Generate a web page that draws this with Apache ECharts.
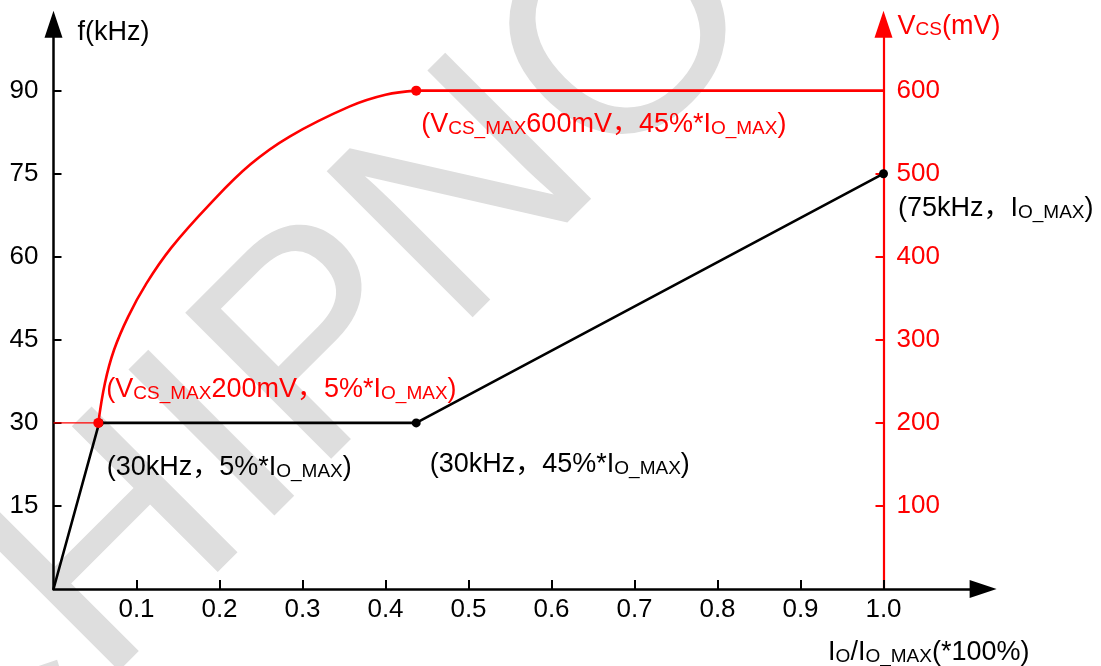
<!DOCTYPE html>
<html>
<head>
<meta charset="utf-8">
<script src="https://cdn.jsdelivr.net/npm/echarts@6/dist/echarts.min.js"></script>
<style>
html,body{margin:0;padding:0;background:#fff;}
#chart{width:1101px;height:666px;}
</style>
</head>
<body>
<div id="chart"></div>
<script>
// ---- data ----
var xTicks = [0.1, 0.2, 0.3, 0.4, 0.5, 0.6, 0.7, 0.8, 0.9, 1.0];
var fTicks = [15, 30, 45, 60, 75, 90];
var vcsTicks = [100, 200, 300, 400, 500, 600];
// switching frequency f (kHz) vs Io/Io_max
var freqPoints = [[0, 0], [0.055, 30], [0.437, 30], [1.0, 75]];
// Vcs (mV) vs Io/Io_max : curve part
var vcsCurve = [[0.054, 200], [0.062, 248], [0.073, 288], [0.090, 328], [0.112, 368],
  [0.142, 411], [0.189, 464], [0.237, 511], [0.285, 545],
  [0.357, 581], [0.400, 595], [0.437, 600]];
var vcsFlat = [[0.437, 600], [1.0, 600]];
var vcsLow = [[0, 200], [0.054, 200]];

var FONT = '"Liberation Sans", Arial, "Noto Sans CJK SC"';
var RED = '#ff0000';
function rich(color, big, small) {
  return {
    m: {fontSize: big, fontFamily: FONT, color: color, lineHeight: big + 4, verticalAlign: 'bottom'},
    s: {fontSize: small, fontFamily: FONT, color: color, lineHeight: small, verticalAlign: 'bottom'}
  };
}
function annot(text, color, off) {
  return {show: true, position: 'right', align: 'left', verticalAlign: 'middle', offset: off,
    formatter: text, rich: rich(color, 27, 19)};
}

var chart = echarts.init(document.getElementById('chart'), null, {renderer: 'canvas'});
var option = {
  backgroundColor: '#fff',
  animation: false,
  textStyle: {fontFamily: FONT},
  grid: {left: 53.5, right: 117.9, top: 24.2, bottom: 77, outerBoundsMode: 'none'},
  graphic: [{
    type: 'text', z: -10, silent: true,
    x: -4, y: 889, rotation: Math.PI / 4,
    style: {text: 'CHIPNORTH', fill: '#dedede', font: '300px "Liberation Sans"', textAlign: 'left', textVerticalAlign: 'bottom'}
  }],
  xAxis: {
    type: 'value', min: 0, max: 1.12,
    splitLine: {show: false},
    axisLine: {lineStyle: {color: '#000', width: 2.5}, symbol: ['none', 'triangle'], symbolSize: [18, 27]},
    axisTick: {inside: true, length: 9, lineStyle: {color: '#000', width: 2}, customValues: xTicks},
    axisLabel: {customValues: xTicks, color: '#000', fontSize: 26, fontFamily: FONT, margin: 8,
      formatter: function (v) { return v.toFixed(1); }},
    name: '{m|I}{s|O}{m|/I}{s|O_MAX}{m|(*100%)}',
    nameLocation: 'end', nameGap: -155,
    nameTextStyle: {align: 'left', verticalAlign: 'top', padding: [46, 0, 0, 0], rich: rich('#000', 27, 19)}
  },
  yAxis: [{
    type: 'value', min: 0, max: 102, position: 'left',
    splitLine: {show: false},
    axisLine: {lineStyle: {color: '#000', width: 2.5}, symbol: ['none', 'triangle'], symbolSize: [18, 27]},
    axisTick: {inside: true, length: 8, lineStyle: {color: '#000', width: 2}, customValues: fTicks},
    axisLabel: {customValues: fTicks, color: '#000', fontSize: 26, fontFamily: FONT, margin: 15},
    name: 'f(kHz)', nameLocation: 'end', nameGap: -8,
    nameTextStyle: {align: 'left', verticalAlign: 'middle', padding: [0, 0, 0, 24], color: '#000', fontSize: 27, fontFamily: FONT}
  }, {
    type: 'value', min: 0, max: 680, position: 'right', offset: -99.6,
    splitLine: {show: false},
    axisLine: {lineStyle: {color: RED, width: 2.2}, symbol: ['none', 'triangle'], symbolSize: [18, 27]},
    axisTick: {inside: true, length: 8, lineStyle: {color: RED, width: 2}, customValues: vcsTicks},
    axisLabel: {customValues: vcsTicks, color: RED, fontSize: 26, fontFamily: FONT, margin: 13},
    name: '{m|V}{s|CS}{m|(mV)}', nameLocation: 'end', nameGap: 0,
    nameTextStyle: {align: 'left', verticalAlign: 'middle', padding: [0, 0, 0, 14], rich: rich(RED, 27, 19)}
  }],
  series: [{
    type: 'line', yAxisIndex: 1, data: vcsLow, symbol: 'none',
    lineStyle: {color: RED, width: 1.3}, z: 3
  }, {
    type: 'line', yAxisIndex: 1, data: vcsFlat, symbol: 'none',
    lineStyle: {color: RED, width: 2.6}, z: 3
  }, {
    type: 'line', yAxisIndex: 1, smooth: 0.4,
    data: vcsCurve.map(function (p, i) {
      var d = {value: p, symbol: 'none'};
      if (i === 0) {
        d.symbol = 'circle';
        d.label = annot('{m|(V}{s|CS_MAX}{m|200mV，5%*I}{s|O_MAX}{m|)}', RED, [-2, -35]);
      } else if (i === vcsCurve.length - 1) {
        d.symbol = 'circle';
        d.label = annot('{m|(V}{s|CS_MAX}{m|600mV，45%*I}{s|O_MAX}{m|)}', RED, [-5, 32]);
      }
      return d;
    }),
    symbolSize: 10, showAllSymbol: true,
    itemStyle: {color: RED}, lineStyle: {color: RED, width: 2.6}, z: 4
  }, {
    type: 'line', yAxisIndex: 0,
    data: freqPoints.map(function (p, i) {
      var d = {value: p};
      if (i === 0) d.symbol = 'none';
      if (i === 1) d.label = annot('{m|(30kHz，5%*I}{s|O_MAX}{m|)}', '#000', [-2, 43]);
      if (i === 2) d.label = annot('{m|(30kHz，45%*I}{s|O_MAX}{m|)}', '#000', [4, 40]);
      if (i === 3) d.label = annot('{m|(75kHz，I}{s|O_MAX}{m|)}', '#000', [5, 33]);
      return d;
    }),
    symbol: 'circle', symbolSize: 9, showAllSymbol: true,
    itemStyle: {color: '#000'}, lineStyle: {color: '#000', width: 2.6}, z: 2
  }]
};
chart.setOption(option);
</script>
</body>
</html>
